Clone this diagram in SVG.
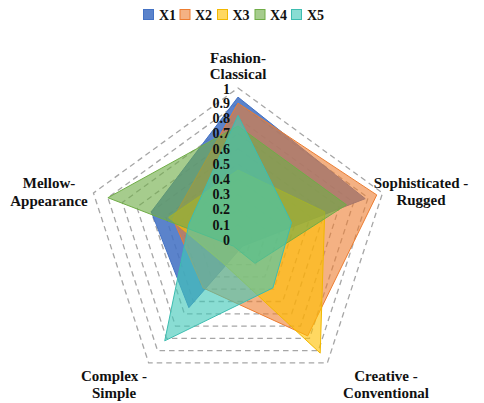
<svg xmlns="http://www.w3.org/2000/svg" width="484" height="403" viewBox="0 0 484 403">
<style>
text{font-family:"Liberation Serif","Times New Roman",serif;font-weight:bold;fill:#111}
.lbl{font-size:15px;text-anchor:middle}
.val{font-size:14px;text-anchor:end}
.leg{font-size:14px}
.grid polygon{fill:none;stroke:#A6A6A6;stroke-width:1.3;stroke-dasharray:5.5 4}
.s1{fill:#4472C4;fill-opacity:0.88;stroke:#4472C4;stroke-width:1}
.s2{fill:#ED7D31;fill-opacity:0.6;stroke:#ED7D31;stroke-width:1}
.s3{fill:#FFC000;fill-opacity:0.62;stroke:#F2B800;stroke-width:1}
.s4{fill:#70AD47;fill-opacity:0.62;stroke:#70AD47;stroke-width:1}
.s5{fill:#40C8B8;fill-opacity:0.62;stroke:#3DBDB0;stroke-width:1}
</style>
<rect width="484" height="403" fill="#fff"/>
<g id="legend">
<rect class="s1" x="143.5" y="9.5" width="10" height="10"/><text class="leg" x="159" y="19.5">X1</text>
<rect class="s2" x="180" y="9.5" width="10" height="10"/><text class="leg" x="195" y="19.5">X2</text>
<rect class="s3" x="217.5" y="9.5" width="10" height="10"/><text class="leg" x="232.5" y="19.5">X3</text>
<rect class="s4" x="255" y="9.5" width="10" height="10"/><text class="leg" x="270" y="19.5">X4</text>
<rect class="s5" x="291.5" y="9.5" width="10" height="10"/><text class="leg" x="307" y="19.5">X5</text>
</g>
<g id="grid" class="grid">
<polygon points="238,224.8 252.46,235.3 246.94,252.3 229.07,252.3 223.54,235.3"/>
<polygon points="238,209.6 266.91,230.61 255.87,264.59 220.13,264.59 209.09,230.61"/>
<polygon points="238,194.4 281.37,225.91 264.81,276.89 211.2,276.89 194.63,225.91"/>
<polygon points="238,179.2 295.82,221.21 273.74,289.19 202.26,289.19 180.18,221.21"/>
<polygon points="238,164 310.28,216.52 282.68,301.49 193.33,301.49 165.72,216.52"/>
<polygon points="238,148.8 324.74,211.82 291.61,313.78 184.39,313.78 151.26,211.82"/>
<polygon points="238,133.6 339.19,207.12 300.55,326.08 175.46,326.08 136.81,207.12"/>
<polygon points="238,118.4 353.65,202.42 309.48,338.38 166.52,338.38 122.35,202.42"/>
<polygon points="238,103.2 368.1,197.73 318.42,350.67 157.58,350.67 107.9,197.73"/>
<polygon points="238,88 382.56,193.03 327.35,362.97 148.65,362.97 93.44,193.03"/>
</g>
<g id="series">
<polygon id="X1" class="s1" points="238,97.12 365.21,198.67 242.47,246.15 188.86,307.63 151.26,211.82"/>
<polygon id="X2" class="s2" points="238,103.2 376.78,194.91 307.69,335.92 203.15,287.96 172.95,218.86"/>
<polygon id="X3" class="s3" points="238,170.08 324.74,211.82 320.2,353.13 221.92,262.13 168.61,217.45"/>
<polygon id="X4" class="s4" points="238,126 346.42,204.77 254.98,263.36 233.53,246.15 107.9,197.73"/>
<polygon id="X5" class="s5" points="238,115.36 291.49,222.62 272.85,287.96 164.73,340.84 188.85,224.03"/>
</g>
<g id="values">
<text class="val" x="230" y="93.5">1</text>
<text class="val" x="230" y="108">0.9</text>
<text class="val" x="230" y="123.2">0.8</text>
<text class="val" x="230" y="138.4">0.7</text>
<text class="val" x="230" y="153.6">0.6</text>
<text class="val" x="230" y="168.8">0.5</text>
<text class="val" x="230" y="184">0.4</text>
<text class="val" x="230" y="199.2">0.3</text>
<text class="val" x="230" y="214.4">0.2</text>
<text class="val" x="230" y="229.6">0.1</text>
<text class="val" x="230" y="244.8">0</text>
</g>
<g id="axis-fashion"><text class="lbl" x="238" y="63">Fashion-</text><text class="lbl" x="238" y="79">Classical</text></g>
<g id="axis-sophisticated"><text class="lbl" x="421" y="188">Sophisticated -</text><text class="lbl" x="421" y="205">Rugged</text></g>
<g id="axis-creative"><text class="lbl" x="386" y="381">Creative -</text><text class="lbl" x="386" y="398">Conventional</text></g>
<g id="axis-complex"><text class="lbl" x="114" y="381">Complex -</text><text class="lbl" x="114" y="398">Simple</text></g>
<g id="axis-mellow"><text class="lbl" x="49" y="188">Mellow-</text><text class="lbl" x="49" y="206">Appearance</text></g>
</svg>
